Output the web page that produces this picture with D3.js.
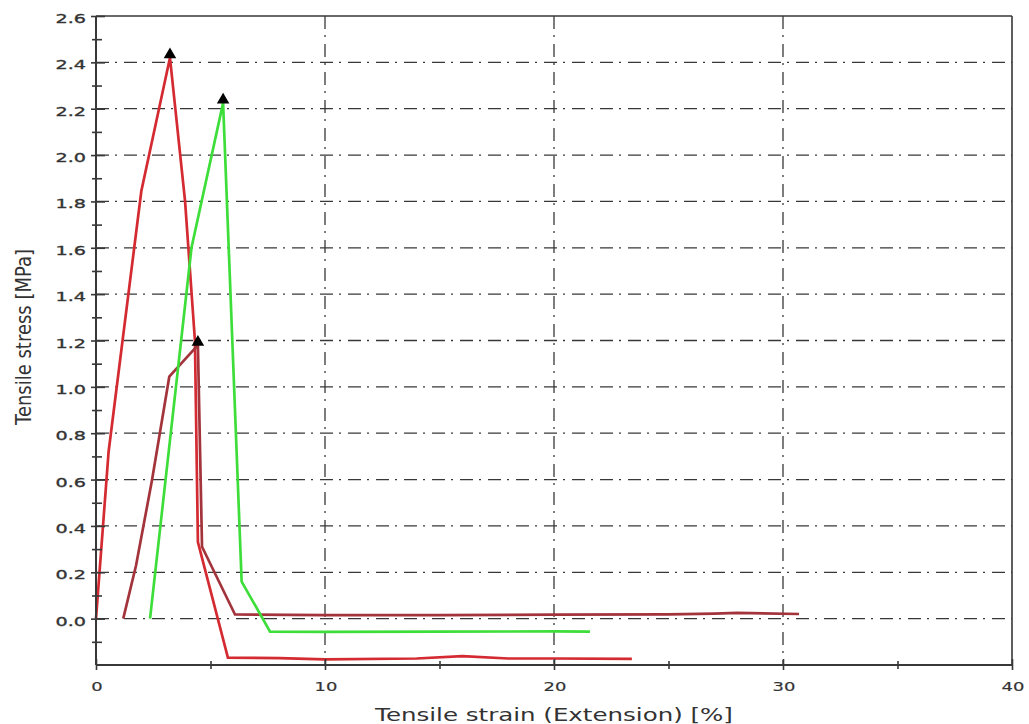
<!DOCTYPE html>
<html><head><meta charset="utf-8">
<script src="https://cdn.jsdelivr.net/npm/d3@7"></script>
<style>body{margin:0;background:#fff} svg{display:block}</style>
</head><body>
<script>
// ---- data ----
const xTickValues = [0, 10, 20, 30, 40];
const xTickLabels = ["0", "10", "20", "30", "40"];
const xMinorTicks = [5, 15, 25, 35];
const xGridValues = [10, 20, 30];
const yTickValues = [0, 0.2, 0.4, 0.6, 0.8, 1.0, 1.2, 1.4, 1.6, 1.8, 2.0, 2.2, 2.4, 2.6];
const yTickLabels = ["0.0","0.2","0.4","0.6","0.8","1.0","1.2","1.4","1.6","1.8","2.0","2.2","2.4","2.6"];
const yMinorTicks = [-0.1, 0.1, 0.3, 0.5, 0.7, 0.9, 1.1, 1.3, 1.5, 1.7, 1.9, 2.1, 2.3, 2.5];
const yGridValues = [0, 0.2, 0.4, 0.6, 0.8, 1.0, 1.2, 1.4, 1.6, 1.8, 2.0, 2.2, 2.4];

const redStrain  = [0, 0.55, 1.98, 3.23, 3.89, 4.32, 4.45, 5.76, 8, 10, 14, 16, 18, 20, 23.4];
const redStress  = [0, 0.72, 1.845, 2.42, 1.8, 1.2, 0.33, -0.168, -0.17, -0.176, -0.172, -0.162, -0.172, -0.172, -0.174];
const darkStrain = [1.19, 1.75, 2.45, 3.2, 4.45, 4.63, 6.07, 10, 15, 20, 25, 27, 28, 30.7];
const darkStress = [0, 0.23, 0.6, 1.044, 1.18, 0.31, 0.018, 0.015, 0.015, 0.017, 0.018, 0.022, 0.025, 0.02];
const greenStrain = [2.36, 4.17, 5.55, 6.36, 7.6, 10, 15, 20, 21.57];
const greenStress = [0, 1.6, 2.225, 0.16, -0.056, -0.057, -0.056, -0.055, -0.056];
const peakStrain = [3.23, 5.55, 4.45];
const peakStress = [2.42, 2.225, 1.18];

const xTitle = "Tensile strain (Extension) [%]";
const yTitle = "Tensile stress [MPa]";

// ---- layout ----
const W = 1029, H = 724;
const L = 96, R = 1012, T = 16, B = 665;
const axisColor = "#383838";

const svg = d3.select("body").append("svg").attr("width", W).attr("height", H);
const x = d3.scaleLinear().domain([0, 40]).range([L, R]);
const y = d3.scaleLinear().domain([-0.2, 2.6]).range([B, T]);

// grid
const grid = svg.append("g").attr("stroke", axisColor).attr("stroke-width", 1.3)
  .attr("stroke-dasharray", "13,6,2,7").attr("fill", "none");
grid.selectAll("line.h").data(yGridValues).join("line").attr("class", "h")
  .attr("x1", L).attr("x2", R).attr("y1", d => y(d)).attr("y2", d => y(d));
grid.selectAll("line.v").data(xGridValues).join("line").attr("class", "v")
  .attr("x1", d => x(d)).attr("x2", d => x(d)).attr("y1", T).attr("y2", B);

// frame (top & right)
svg.append("line").attr("x1", L).attr("x2", R).attr("y1", T).attr("y2", T)
  .attr("stroke", axisColor).attr("stroke-width", 1.6);
svg.append("line").attr("x1", R).attr("x2", R).attr("y1", T).attr("y2", B)
  .attr("stroke", axisColor).attr("stroke-width", 1.6);

// series
const line = d3.line().x(d => x(d[0])).y(d => y(d[1]));
function series(xs, ys, color) {
  svg.append("path").datum(xs.map((v, i) => [v, ys[i]]))
    .attr("d", line).attr("fill", "none").attr("stroke", color)
    .attr("stroke-width", 2.7).attr("stroke-linejoin", "miter").attr("stroke-miterlimit", 10);
}
series(redStrain, redStress, "#d42a31");
series(darkStrain, darkStress, "#a3343c");
series(greenStrain, greenStress, "#3ede3a");

// peak markers
svg.selectAll("path.peak").data(peakStrain.map((v, i) => [v, peakStress[i]])).join("path")
  .attr("class", "peak")
  .attr("d", d3.symbol(d3.symbolTriangle, 68))
  .attr("transform", d => `translate(${x(d[0])},${y(d[1]) - 3})`)
  .attr("fill", "#000");

// axes (ticks crossing the axis line)
function styleAxis(g) {
  g.selectAll(".domain").remove();
  g.selectAll("line").attr("stroke", axisColor).attr("stroke-width", 1.6);
  g.selectAll("text").remove();
}
svg.append("g").attr("transform", `translate(${L},0)`)
  .call(d3.axisLeft(y).tickValues(yTickValues).tickSize(5).tickFormat("")).call(styleAxis);
svg.append("g").attr("transform", `translate(${L},0)`)
  .call(d3.axisRight(y).tickValues(yTickValues).tickSize(9).tickFormat("")).call(styleAxis);
svg.append("g").attr("transform", `translate(${L},0)`)
  .call(d3.axisLeft(y).tickValues(yMinorTicks).tickSize(4).tickFormat("")).call(styleAxis);
svg.append("g").attr("transform", `translate(${L},0)`)
  .call(d3.axisRight(y).tickValues(yMinorTicks).tickSize(6).tickFormat("")).call(styleAxis);

svg.append("g").attr("transform", `translate(0,${B})`)
  .call(d3.axisBottom(x).tickValues(xTickValues).tickSize(5).tickFormat("")).call(styleAxis);
svg.append("g").attr("transform", `translate(0,${B})`)
  .call(d3.axisTop(x).tickValues(xTickValues).tickSize(6).tickFormat("")).call(styleAxis);
svg.append("g").attr("transform", `translate(0,${B})`)
  .call(d3.axisBottom(x).tickValues(xMinorTicks).tickSize(4).tickFormat("")).call(styleAxis);
svg.append("g").attr("transform", `translate(0,${B})`)
  .call(d3.axisTop(x).tickValues(xMinorTicks).tickSize(4).tickFormat("")).call(styleAxis);

// axis lines
svg.append("line").attr("x1", L).attr("x2", L).attr("y1", T).attr("y2", B)
  .attr("stroke", axisColor).attr("stroke-width", 2);
svg.append("line").attr("x1", L).attr("x2", R).attr("y1", B).attr("y2", B)
  .attr("stroke", axisColor).attr("stroke-width", 2);

// tick labels
const font = "'DejaVu Sans', Verdana, sans-serif";
svg.append("g").selectAll("text").data(yTickValues).join("text")
  .attr("transform", d => `translate(${L - 10},${y(d) + 7}) scale(1.5,1)`)
  .attr("text-anchor", "end").attr("font-family", font).attr("font-size", 12.8)
  .attr("fill", "#333").attr("stroke", "#333").attr("stroke-width", 0.35)
  .text((d, i) => yTickLabels[i]);
svg.append("g").selectAll("text").data(xTickValues).join("text")
  .attr("transform", d => `translate(${x(d) + 1},${B + 26}) scale(1.38,1)`)
  .attr("text-anchor", "middle").attr("font-family", font).attr("font-size", 13)
  .attr("fill", "#333").attr("stroke", "#333").attr("stroke-width", 0.2)
  .text((d, i) => xTickLabels[i]);

// titles
svg.append("text")
  .attr("transform", `translate(554,721) scale(1.325,1)`)
  .attr("text-anchor", "middle").attr("font-family", font).attr("font-size", 18.5)
  .attr("fill", "#333").text(xTitle);
svg.append("text")
  .attr("transform", `translate(31,337) rotate(-90) scale(1,1.15)`)
  .attr("text-anchor", "middle").attr("font-family", font).attr("font-size", 18)
  .attr("fill", "#333").text(yTitle);
</script>
</body></html>
